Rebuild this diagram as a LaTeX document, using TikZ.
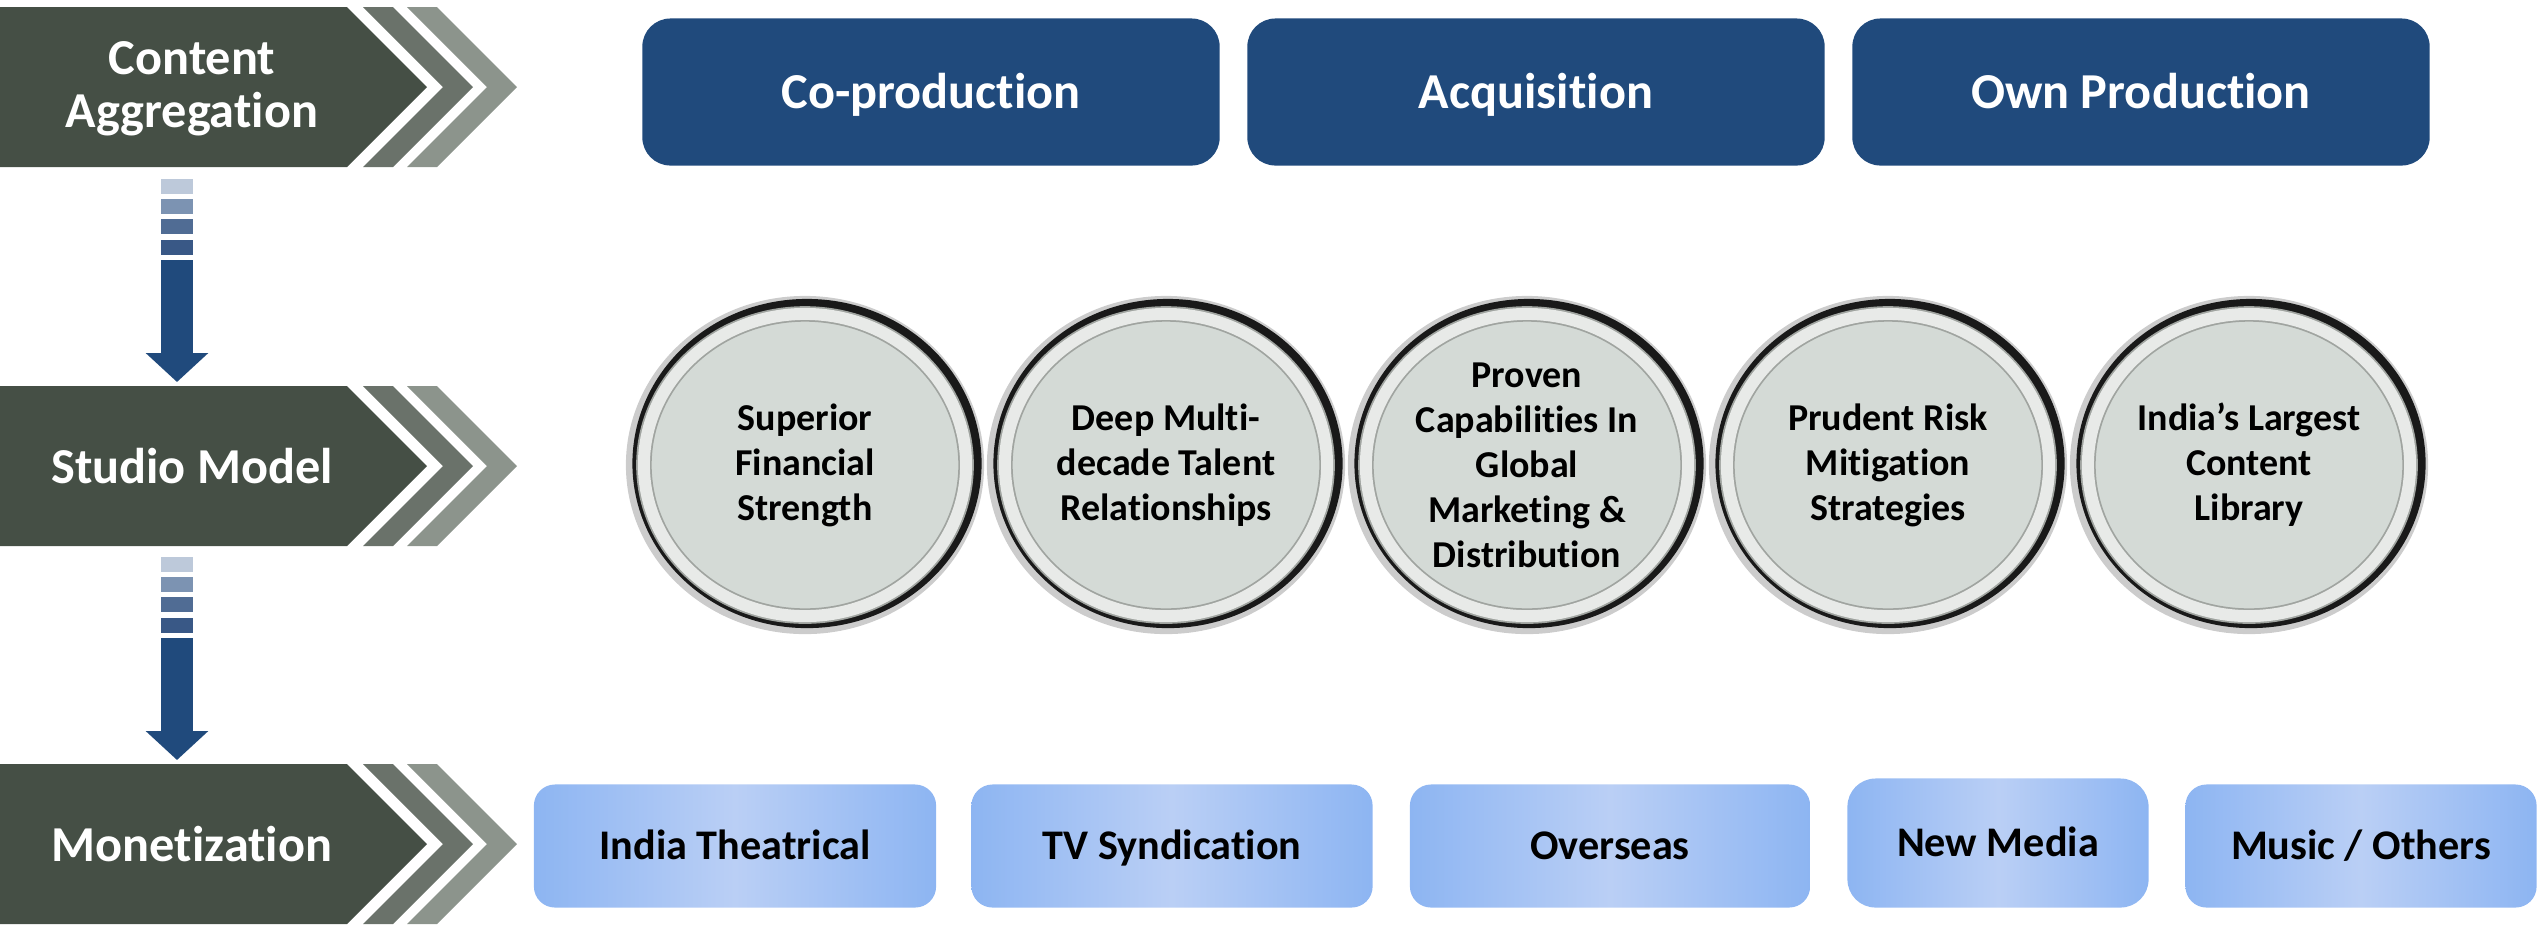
\documentclass[tikz,border=0pt]{standalone}
\usepackage{fontspec}
\setmainfont{Carlito}[Ligatures=NoCommon]
\usetikzlibrary{arrows.meta,shapes.geometric,positioning}
\definecolor{chvdark}{RGB}{69,79,69}
\definecolor{chvmid}{RGB}{106,114,106}
\definecolor{chvlight}{RGB}{140,148,140}
\definecolor{navy}{RGB}{32,74,124}
\definecolor{barA}{RGB}{189,201,218}
\definecolor{barB}{RGB}{124,147,178}
\definecolor{barC}{RGB}{80,108,148}
\definecolor{barD}{RGB}{57,88,134}
\definecolor{skyedge}{RGB}{141,181,242}
\definecolor{skymid}{RGB}{186,207,245}
\definecolor{discin}{RGB}{212,218,214}
\definecolor{discrim}{RGB}{232,234,232}
\definecolor{discline}{RGB}{160,164,160}
\tikzset{
  stage/.style={font=\fontsize{14.3}{15.2}\selectfont\bfseries,text=white,align=center},
  src/.style={rounded corners=8pt,fill=navy,minimum width=5.77cm,minimum height=1.47cm,inner sep=0pt,
    text=white,font=\fontsize{14.3}{17}\selectfont\bfseries,text height=9.2pt,text depth=0pt},
  outlet/.style={rounded corners=6pt,left color=skyedge,right color=skyedge,middle color=skymid,
    minimum height=1.23cm,inner sep=0pt,font=\fontsize{12}{14}\selectfont\bfseries,
    text height=7.7pt,text depth=0pt},
  % a disc is a grey face in a silver rim, with a dark halo behind it
  disc/.style={ellipse,minimum width=3.22cm,minimum height=3.02cm,inner sep=0pt,fill=discin,
    draw=discline,line width=.5pt,double=discrim,double distance=.12cm,
    preaction={draw=black!20,line width=.36cm},
    preaction={draw=black!90,line width=.27cm,transform canvas={shift={(.02cm,.015cm)}}}},
  disct/.style={align=center,font=\fontsize{10.8}{12.8}\selectfont\bfseries},
  dn/.style={draw=navy,line width=.31cm,-{Triangle[width=.61cm,length=.29cm]}},
}

\begin{document}
\begin{tikzpicture}[x=0.01cm,y=-0.01cm]
\useasboundingbox (0,0) rectangle (2539,926);
% ============================= stage chevrons
\foreach \c in {87,466,844}{
  \fill[chvdark] (0,\c-80) -- (347,\c-80) -- (427,\c) -- (347,\c+80) -- (0,\c+80) -- cycle;
  \fill[chvmid] (363,\c-80) -- (393,\c-80) -- (473,\c) -- (393,\c+80) -- (363,\c+80) -- (443,\c) -- cycle;
  \fill[chvlight] (407,\c-80) -- (437,\c-80) -- (517,\c) -- (437,\c+80) -- (407,\c+80) -- (487,\c) -- cycle;
}
\node[stage] (agg) at (192,89) {Content\\Aggregation};
\node[stage] (studio) at (192,466) {Studio Model};
\node[stage] (monet) at (192,844) {Monetization};
% ============================= striped down arrows
\foreach \o in {0,378}{
  \fill[barA] (161,179+\o) rectangle (193,194+\o);
  \fill[barB] (161,199+\o) rectangle (193,214+\o);
  \fill[barC] (161,219+\o) rectangle (193,234+\o);
  \fill[barD] (161,240+\o) rectangle (193,255+\o);
}
\coordinate (a1s) at (177,260);
\coordinate (a1e) at (177,382);
\coordinate (a2s) at (177,638);
\coordinate (a2e) at (177,760);
\draw[dn] (a1s) -- (a1e);
\draw[dn] (a2s) -- (a2e);
% ============================= sources
\node[src] (copro) at (931,92) {Co-production};
\node[src] (acq) at (1536,92) {Acquisition};
\node[src] (ownpro) at (2141,92) {Own Production};
% ============================= studio strengths
\node[disc] (d1) at (805,465) {};
\node[disct] (d1t) at (d1) {Superior\\Financial\\Strength};
\node[disc] (d2) at (1166,465) {};
\node[disct] (d2t) at (d2) {Deep Multi-\\decade Talent\\Relationships};
\node[disc] (d3) at (1527,465) {};
\node[disct] (d3t) at (d3) {Proven\\Capabilities In\\Global\\Marketing \&\\Distribution};
\node[disc] (d4) at (1888,465) {};
\node[disct] (d4t) at (d4) {Prudent Risk\\Mitigation\\Strategies};
\node[disc] (d5) at (2249,465) {};
\node[disct] (d5t) at (d5) {India’s Largest\\Content\\Library};
% ============================= revenue streams
\node[outlet,minimum width=4.02cm] (theat) at (735,846) {India Theatrical};
\node[outlet,minimum width=4.01cm] (tvsyn) at (1172,846) {TV Syndication};
\node[outlet,minimum width=4.00cm] (overs) at (1610,846) {Overseas};
\node[outlet,minimum width=3.01cm,minimum height=1.29cm,rounded corners=8pt] (newmed) at (1998,843) {New Media};
\node[outlet,minimum width=3.51cm] (music) at (2361,846) {Music / Others};
\end{tikzpicture}
\end{document}
